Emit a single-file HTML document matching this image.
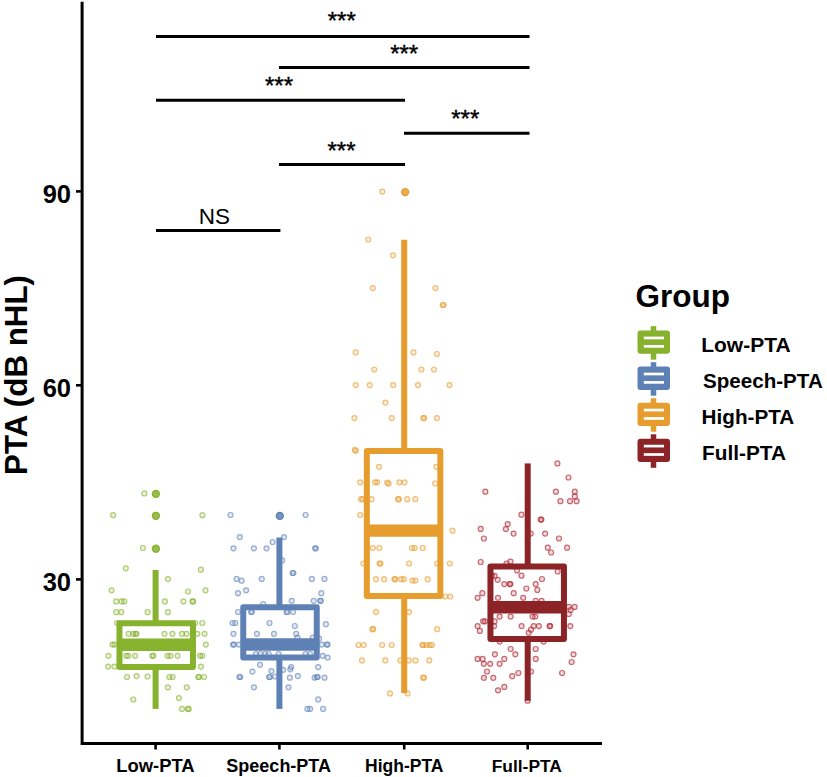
<!DOCTYPE html>
<html><head><meta charset="utf-8"><title>PTA</title>
<style>
html,body{margin:0;padding:0;background:#fff;}
body{width:827px;height:777px;overflow:hidden;position:relative;font-family:"Liberation Sans",sans-serif;}
svg{position:absolute;left:0;top:0;}
text{font-family:"Liberation Sans",sans-serif;fill:#000;}
.b{font-weight:bold;}
</style></head><body>
<svg width="827" height="777" viewBox="0 0 827 777">
<rect width="827" height="777" fill="#fff"/>

<g fill="#86B22E" fill-opacity="0.18" stroke="#86B22E" stroke-opacity="0.62" stroke-width="1.2">
<circle cx="144.3" cy="493.4" r="2.5"/>
<circle cx="113.1" cy="515.2" r="2.5"/>
<circle cx="202.4" cy="515.2" r="2.5"/>
<circle cx="142.9" cy="548" r="2.5"/>
<circle cx="125.8" cy="568.3" r="2.5"/>
<circle cx="200.9" cy="569.7" r="2.5"/>
<circle cx="168" cy="579.1" r="2.5"/>
<circle cx="111.6" cy="590.3" r="2.5"/>
<circle cx="188.1" cy="591.5" r="2.5"/>
<circle cx="205.5" cy="590.3" r="2.5"/>
<circle cx="116.2" cy="601.4" r="2.5"/>
<circle cx="121.6" cy="601.4" r="2.5"/>
<circle cx="124.3" cy="601.4" r="2.5"/>
<circle cx="164.9" cy="601.4" r="2.5"/>
<circle cx="183.4" cy="601.4" r="2.5"/>
<circle cx="192.4" cy="601.4" r="2.5"/>
<circle cx="193.2" cy="601.4" r="2.5"/>
<circle cx="116.2" cy="612.2" r="2.5"/>
<circle cx="121.3" cy="612.2" r="2.5"/>
<circle cx="147.6" cy="612.2" r="2.5"/>
<circle cx="167.9" cy="612.2" r="2.5"/>
<circle cx="117.1" cy="623" r="2.5"/>
<circle cx="195.1" cy="623" r="2.5"/>
<circle cx="202.3" cy="623" r="2.5"/>
<circle cx="128.5" cy="633.8" r="2.5"/>
<circle cx="133.3" cy="633.8" r="2.5"/>
<circle cx="135.6" cy="633.8" r="2.5"/>
<circle cx="136.4" cy="633.8" r="2.5"/>
<circle cx="164.5" cy="633.8" r="2.5"/>
<circle cx="172.4" cy="633.8" r="2.5"/>
<circle cx="182" cy="633.8" r="2.5"/>
<circle cx="186.5" cy="633.8" r="2.5"/>
<circle cx="197.3" cy="633.8" r="2.5"/>
<circle cx="204.5" cy="633.8" r="2.5"/>
<circle cx="112.5" cy="644.6" r="2.5"/>
<circle cx="114.5" cy="644.6" r="2.5"/>
<circle cx="205.8" cy="644.6" r="2.5"/>
<circle cx="108.5" cy="655.8" r="2.5"/>
<circle cx="126.1" cy="655.8" r="2.5"/>
<circle cx="128.3" cy="655.8" r="2.5"/>
<circle cx="135.1" cy="655.8" r="2.5"/>
<circle cx="152.4" cy="655.8" r="2.5"/>
<circle cx="153.2" cy="655.8" r="2.5"/>
<circle cx="167.6" cy="655.8" r="2.5"/>
<circle cx="170.3" cy="655.8" r="2.5"/>
<circle cx="177.5" cy="655.8" r="2.5"/>
<circle cx="200" cy="655.8" r="2.5"/>
<circle cx="202.3" cy="655.8" r="2.5"/>
<circle cx="108.1" cy="666.6" r="2.5"/>
<circle cx="114.4" cy="666.6" r="2.5"/>
<circle cx="200.9" cy="666.6" r="2.5"/>
<circle cx="127" cy="677" r="2.5"/>
<circle cx="136.6" cy="676.1" r="2.5"/>
<circle cx="147.6" cy="676.5" r="2.5"/>
<circle cx="169.4" cy="677" r="2.5"/>
<circle cx="172.6" cy="677" r="2.5"/>
<circle cx="198.3" cy="677" r="2.5"/>
<circle cx="199.1" cy="677" r="2.5"/>
<circle cx="204.1" cy="677" r="2.5"/>
<circle cx="167.9" cy="687.3" r="2.5"/>
<circle cx="186.8" cy="687.3" r="2.5"/>
<circle cx="133.3" cy="699.5" r="2.5"/>
<circle cx="178.9" cy="698.1" r="2.5"/>
<circle cx="182" cy="708.9" r="2.5"/>
<circle cx="187.9" cy="708.9" r="2.5"/>
<circle cx="188.7" cy="708.9" r="2.5"/>
</g>
<g fill="#86B22E" fill-opacity="0.85" stroke="#86B22E" stroke-opacity="1" stroke-width="1.4">
<circle cx="155.9" cy="493.9" r="3.45"/>
<circle cx="155.9" cy="515.8" r="3.45"/>
<circle cx="155.9" cy="548.7" r="3.45"/>
</g>
<g fill="#5E81B5" fill-opacity="0.18" stroke="#5E81B5" stroke-opacity="0.62" stroke-width="1.2">
<circle cx="230.5" cy="515" r="2.5"/>
<circle cx="305.6" cy="515" r="2.5"/>
<circle cx="239.8" cy="537.1" r="2.5"/>
<circle cx="284" cy="537.1" r="2.5"/>
<circle cx="272.6" cy="542" r="2.5"/>
<circle cx="233.5" cy="548.3" r="2.5"/>
<circle cx="253.9" cy="548.3" r="2.5"/>
<circle cx="266.5" cy="548.3" r="2.5"/>
<circle cx="315.1" cy="548.3" r="2.5"/>
<circle cx="315.9" cy="548.3" r="2.5"/>
<circle cx="282.2" cy="560.4" r="2.5"/>
<circle cx="292.6" cy="573" r="2.5"/>
<circle cx="293.4" cy="573" r="2.5"/>
<circle cx="236.6" cy="578.9" r="2.5"/>
<circle cx="241.6" cy="580.7" r="2.5"/>
<circle cx="261.8" cy="578.9" r="2.5"/>
<circle cx="311.9" cy="578.9" r="2.5"/>
<circle cx="324.5" cy="578.9" r="2.5"/>
<circle cx="246.1" cy="590.3" r="2.5"/>
<circle cx="238" cy="593.2" r="2.5"/>
<circle cx="321.3" cy="593.2" r="2.5"/>
<circle cx="291.7" cy="600.8" r="2.5"/>
<circle cx="313.7" cy="600.8" r="2.5"/>
<circle cx="320.1" cy="600.8" r="2.5"/>
<circle cx="320.9" cy="600.8" r="2.5"/>
<circle cx="263.2" cy="604" r="2.5"/>
<circle cx="238" cy="612" r="2.5"/>
<circle cx="251.1" cy="612" r="2.5"/>
<circle cx="251.9" cy="612" r="2.5"/>
<circle cx="286.6" cy="612" r="2.5"/>
<circle cx="287.4" cy="612" r="2.5"/>
<circle cx="293" cy="612" r="2.5"/>
<circle cx="232.6" cy="623" r="2.5"/>
<circle cx="235.3" cy="623" r="2.5"/>
<circle cx="269.5" cy="623" r="2.5"/>
<circle cx="294.8" cy="626" r="2.5"/>
<circle cx="325.9" cy="624.2" r="2.5"/>
<circle cx="233.5" cy="633.8" r="2.5"/>
<circle cx="256.9" cy="633.8" r="2.5"/>
<circle cx="274" cy="633.8" r="2.5"/>
<circle cx="296.2" cy="633.8" r="2.5"/>
<circle cx="297.5" cy="637.7" r="2.5"/>
<circle cx="312.8" cy="637.7" r="2.5"/>
<circle cx="319.1" cy="638.6" r="2.5"/>
<circle cx="233.1" cy="644.6" r="2.5"/>
<circle cx="233.9" cy="644.6" r="2.5"/>
<circle cx="238.9" cy="644.6" r="2.5"/>
<circle cx="321.8" cy="644.6" r="2.5"/>
<circle cx="326.8" cy="644.6" r="2.5"/>
<circle cx="327.6" cy="644.6" r="2.5"/>
<circle cx="256" cy="654" r="2.5"/>
<circle cx="260.5" cy="654" r="2.5"/>
<circle cx="265" cy="654" r="2.5"/>
<circle cx="268.6" cy="654" r="2.5"/>
<circle cx="278.6" cy="654" r="2.5"/>
<circle cx="305.6" cy="654" r="2.5"/>
<circle cx="310.1" cy="654" r="2.5"/>
<circle cx="322.7" cy="655.8" r="2.5"/>
<circle cx="327.7" cy="657.6" r="2.5"/>
<circle cx="260" cy="664.8" r="2.5"/>
<circle cx="252.4" cy="671.6" r="2.5"/>
<circle cx="271.4" cy="671.1" r="2.5"/>
<circle cx="283.1" cy="669.8" r="2.5"/>
<circle cx="291.2" cy="667.1" r="2.5"/>
<circle cx="290.3" cy="669.3" r="2.5"/>
<circle cx="318.2" cy="667.1" r="2.5"/>
<circle cx="239.4" cy="677" r="2.5"/>
<circle cx="240.2" cy="677" r="2.5"/>
<circle cx="269.1" cy="677" r="2.5"/>
<circle cx="269.9" cy="677" r="2.5"/>
<circle cx="275" cy="676.5" r="2.5"/>
<circle cx="289.9" cy="677.7" r="2.5"/>
<circle cx="297.8" cy="676.1" r="2.5"/>
<circle cx="314.6" cy="677.7" r="2.5"/>
<circle cx="316.9" cy="677" r="2.5"/>
<circle cx="317.7" cy="677" r="2.5"/>
<circle cx="324.5" cy="677.7" r="2.5"/>
<circle cx="253.9" cy="687.3" r="2.5"/>
<circle cx="288.5" cy="687.3" r="2.5"/>
<circle cx="318.2" cy="699.4" r="2.5"/>
<circle cx="307.4" cy="708.9" r="2.5"/>
<circle cx="310.1" cy="708.9" r="2.5"/>
<circle cx="323.1" cy="708.9" r="2.5"/>
</g>
<g fill="#5E81B5" fill-opacity="0.85" stroke="#5E81B5" stroke-opacity="1" stroke-width="1.4">
<circle cx="279.8" cy="515.9" r="3.45"/>
</g>
<g fill="#E69D2E" fill-opacity="0.18" stroke="#E69D2E" stroke-opacity="0.62" stroke-width="1.2">
<circle cx="382.3" cy="191.6" r="2.5"/>
<circle cx="368.3" cy="239.5" r="2.5"/>
<circle cx="393.1" cy="255.3" r="2.5"/>
<circle cx="372.8" cy="288.1" r="2.5"/>
<circle cx="435.4" cy="288.1" r="2.5"/>
<circle cx="442.8" cy="305" r="2.5"/>
<circle cx="443.6" cy="305" r="2.5"/>
<circle cx="355.7" cy="352.4" r="2.5"/>
<circle cx="413.5" cy="352.4" r="2.5"/>
<circle cx="436.9" cy="354" r="2.5"/>
<circle cx="374.2" cy="369.5" r="2.5"/>
<circle cx="421.4" cy="369.5" r="2.5"/>
<circle cx="434" cy="369.5" r="2.5"/>
<circle cx="355.7" cy="385.1" r="2.5"/>
<circle cx="369.7" cy="385.1" r="2.5"/>
<circle cx="393.1" cy="385.1" r="2.5"/>
<circle cx="418" cy="385.1" r="2.5"/>
<circle cx="449.5" cy="385.1" r="2.5"/>
<circle cx="385.4" cy="402.6" r="2.5"/>
<circle cx="354.4" cy="418.1" r="2.5"/>
<circle cx="391.7" cy="418.1" r="2.5"/>
<circle cx="423.3" cy="418.1" r="2.5"/>
<circle cx="424.1" cy="418.1" r="2.5"/>
<circle cx="436.9" cy="418.1" r="2.5"/>
<circle cx="354.8" cy="449.8" r="2.5"/>
<circle cx="355.8" cy="450.8" r="2.5"/>
<circle cx="379.1" cy="466.8" r="2.5"/>
<circle cx="436.3" cy="466.8" r="2.5"/>
<circle cx="360.2" cy="482.3" r="2.5"/>
<circle cx="375.1" cy="482.3" r="2.5"/>
<circle cx="377.3" cy="482.3" r="2.5"/>
<circle cx="387.2" cy="482.6" r="2.5"/>
<circle cx="388.6" cy="483.7" r="2.5"/>
<circle cx="399.4" cy="482.3" r="2.5"/>
<circle cx="404.5" cy="482.3" r="2.5"/>
<circle cx="435.1" cy="483.5" r="2.5"/>
<circle cx="361" cy="499.2" r="2.5"/>
<circle cx="362.5" cy="499.2" r="2.5"/>
<circle cx="371.5" cy="499.2" r="2.5"/>
<circle cx="398.1" cy="499.2" r="2.5"/>
<circle cx="398.9" cy="499.2" r="2.5"/>
<circle cx="407.2" cy="499.2" r="2.5"/>
<circle cx="415.3" cy="499.2" r="2.5"/>
<circle cx="360.2" cy="515" r="2.5"/>
<circle cx="452.5" cy="530.7" r="2.5"/>
<circle cx="372.8" cy="548" r="2.5"/>
<circle cx="379.3" cy="548" r="2.5"/>
<circle cx="412" cy="548" r="2.5"/>
<circle cx="414.7" cy="548" r="2.5"/>
<circle cx="422.8" cy="548" r="2.5"/>
<circle cx="363.4" cy="563.5" r="2.5"/>
<circle cx="379.6" cy="563.5" r="2.5"/>
<circle cx="380.4" cy="563.5" r="2.5"/>
<circle cx="409" cy="563.5" r="2.5"/>
<circle cx="437.2" cy="563.5" r="2.5"/>
<circle cx="449.8" cy="563.5" r="2.5"/>
<circle cx="376" cy="579.2" r="2.5"/>
<circle cx="384.1" cy="579.2" r="2.5"/>
<circle cx="394.5" cy="579.2" r="2.5"/>
<circle cx="395.3" cy="579.2" r="2.5"/>
<circle cx="401.2" cy="579.2" r="2.5"/>
<circle cx="403.9" cy="579.2" r="2.5"/>
<circle cx="412.4" cy="580.6" r="2.5"/>
<circle cx="415.3" cy="580.6" r="2.5"/>
<circle cx="427.7" cy="579.2" r="2.5"/>
<circle cx="445.3" cy="596.5" r="2.5"/>
<circle cx="450.2" cy="596.5" r="2.5"/>
<circle cx="376" cy="612.1" r="2.5"/>
<circle cx="409" cy="612.1" r="2.5"/>
<circle cx="372.4" cy="629.2" r="2.5"/>
<circle cx="373.2" cy="629.2" r="2.5"/>
<circle cx="437.2" cy="629.2" r="2.5"/>
<circle cx="358.5" cy="645" r="2.5"/>
<circle cx="363.7" cy="645" r="2.5"/>
<circle cx="382.2" cy="645" r="2.5"/>
<circle cx="391.7" cy="645" r="2.5"/>
<circle cx="422.4" cy="645" r="2.5"/>
<circle cx="423.2" cy="645" r="2.5"/>
<circle cx="426.2" cy="645" r="2.5"/>
<circle cx="429.8" cy="645" r="2.5"/>
<circle cx="432" cy="645" r="2.5"/>
<circle cx="362" cy="660.4" r="2.5"/>
<circle cx="385.3" cy="660.4" r="2.5"/>
<circle cx="400.4" cy="660.4" r="2.5"/>
<circle cx="408.9" cy="660.4" r="2.5"/>
<circle cx="415.5" cy="660.4" r="2.5"/>
<circle cx="429.3" cy="660.4" r="2.5"/>
<circle cx="423.2" cy="677.7" r="2.5"/>
<circle cx="424" cy="677.7" r="2.5"/>
<circle cx="390" cy="693.4" r="2.5"/>
<circle cx="407.6" cy="693.4" r="2.5"/>
</g>
<g fill="#E69D2E" fill-opacity="0.85" stroke="#E69D2E" stroke-opacity="1" stroke-width="1.4">
<circle cx="405.2" cy="192.1" r="3.45"/>
</g>
<g fill="#B02A35" fill-opacity="0.18" stroke="#B02A35" stroke-opacity="0.68" stroke-width="1.2">
<circle cx="557.4" cy="463.4" r="2.5"/>
<circle cx="568.5" cy="477.5" r="2.5"/>
<circle cx="485.3" cy="491.7" r="2.5"/>
<circle cx="555.9" cy="491.7" r="2.5"/>
<circle cx="574.8" cy="491.7" r="2.5"/>
<circle cx="574.8" cy="496.4" r="2.5"/>
<circle cx="560.4" cy="501.2" r="2.5"/>
<circle cx="570" cy="501.2" r="2.5"/>
<circle cx="576.6" cy="501.2" r="2.5"/>
<circle cx="521.4" cy="514.7" r="2.5"/>
<circle cx="540.7" cy="519.6" r="2.5"/>
<circle cx="541.4" cy="519.6" r="2.5"/>
<circle cx="507.7" cy="524.1" r="2.5"/>
<circle cx="505.9" cy="529.1" r="2.5"/>
<circle cx="480.7" cy="528.9" r="2.5"/>
<circle cx="513.6" cy="533.6" r="2.5"/>
<circle cx="530.7" cy="533.6" r="2.5"/>
<circle cx="545.1" cy="533.6" r="2.5"/>
<circle cx="483.9" cy="538.5" r="2.5"/>
<circle cx="559" cy="538.5" r="2.5"/>
<circle cx="547.8" cy="547.7" r="2.5"/>
<circle cx="551.1" cy="552.5" r="2.5"/>
<circle cx="567.1" cy="547.7" r="2.5"/>
<circle cx="480.7" cy="562" r="2.5"/>
<circle cx="510.5" cy="561.6" r="2.5"/>
<circle cx="506.5" cy="563.7" r="2.5"/>
<circle cx="517" cy="570.4" r="2.5"/>
<circle cx="557.7" cy="571.5" r="2.5"/>
<circle cx="521.5" cy="575.7" r="2.5"/>
<circle cx="492" cy="575.4" r="2.5"/>
<circle cx="494.6" cy="575.9" r="2.5"/>
<circle cx="497.7" cy="579.8" r="2.5"/>
<circle cx="542" cy="579" r="2.5"/>
<circle cx="504.3" cy="584.1" r="2.5"/>
<circle cx="509.8" cy="584.1" r="2.5"/>
<circle cx="510.4" cy="584.1" r="2.5"/>
<circle cx="535.7" cy="584.1" r="2.5"/>
<circle cx="526.3" cy="588.5" r="2.5"/>
<circle cx="537.3" cy="589.9" r="2.5"/>
<circle cx="513.7" cy="593.2" r="2.5"/>
<circle cx="482.3" cy="593.2" r="2.5"/>
<circle cx="477.6" cy="597.8" r="2.5"/>
<circle cx="498" cy="597.8" r="2.5"/>
<circle cx="523.2" cy="597.8" r="2.5"/>
<circle cx="535.7" cy="600.9" r="2.5"/>
<circle cx="541.6" cy="600.9" r="2.5"/>
<circle cx="568.8" cy="606.9" r="2.5"/>
<circle cx="574.6" cy="606.9" r="2.5"/>
<circle cx="570.6" cy="610" r="2.5"/>
<circle cx="568.8" cy="614" r="2.5"/>
<circle cx="499.6" cy="616.6" r="2.5"/>
<circle cx="510.6" cy="616.6" r="2.5"/>
<circle cx="532.6" cy="616.6" r="2.5"/>
<circle cx="535.3" cy="616.6" r="2.5"/>
<circle cx="483.1" cy="621.3" r="2.5"/>
<circle cx="485" cy="621.3" r="2.5"/>
<circle cx="494.6" cy="621.3" r="2.5"/>
<circle cx="477.6" cy="626.1" r="2.5"/>
<circle cx="494.1" cy="626.1" r="2.5"/>
<circle cx="521.6" cy="626.1" r="2.5"/>
<circle cx="533.7" cy="626.1" r="2.5"/>
<circle cx="538.9" cy="626.1" r="2.5"/>
<circle cx="549.6" cy="626.1" r="2.5"/>
<circle cx="550.2" cy="626.1" r="2.5"/>
<circle cx="570.3" cy="626.1" r="2.5"/>
<circle cx="479.9" cy="630.9" r="2.5"/>
<circle cx="531" cy="629.7" r="2.5"/>
<circle cx="528.7" cy="632.8" r="2.5"/>
<circle cx="499.6" cy="641.6" r="2.5"/>
<circle cx="543.6" cy="641.6" r="2.5"/>
<circle cx="510.6" cy="649" r="2.5"/>
<circle cx="535.7" cy="649" r="2.5"/>
<circle cx="494.9" cy="654.3" r="2.5"/>
<circle cx="515.3" cy="654.3" r="2.5"/>
<circle cx="573.5" cy="654.3" r="2.5"/>
<circle cx="477.6" cy="658.9" r="2.5"/>
<circle cx="482.6" cy="658.9" r="2.5"/>
<circle cx="504.3" cy="658.9" r="2.5"/>
<circle cx="535.7" cy="658.9" r="2.5"/>
<circle cx="483.9" cy="663.8" r="2.5"/>
<circle cx="490.2" cy="663.8" r="2.5"/>
<circle cx="499.6" cy="663.8" r="2.5"/>
<circle cx="571.6" cy="662" r="2.5"/>
<circle cx="487" cy="671.5" r="2.5"/>
<circle cx="518.4" cy="673" r="2.5"/>
<circle cx="531" cy="671.5" r="2.5"/>
<circle cx="562.1" cy="673" r="2.5"/>
<circle cx="483.9" cy="677.8" r="2.5"/>
<circle cx="493.3" cy="677.8" r="2.5"/>
<circle cx="512.2" cy="676.2" r="2.5"/>
<circle cx="504.3" cy="686.9" r="2.5"/>
<circle cx="498" cy="690.3" r="2.5"/>
<circle cx="527.6" cy="700.7" r="2.5"/>
</g>
<g fill="#8C2327" fill-opacity="0.85" stroke="#8C2327" stroke-opacity="1" stroke-width="1.4">
</g>
<g stroke="#86B22E" fill="none" stroke-width="6" stroke-linejoin="round">
<line x1="155.6" y1="570" x2="155.6" y2="623.2"/><line x1="155.6" y1="667" x2="155.6" y2="708.9"/>
<rect x="119.44999999999999" y="623.2" width="73.5" height="43.799999999999955" fill="#fff" fill-opacity="0"/>
<line x1="119.44999999999999" y1="644.8" x2="192.95" y2="644.8" stroke-width="12.4"/>
</g>
<g stroke="#5E81B5" fill="none" stroke-width="6" stroke-linejoin="round">
<line x1="279.4" y1="537.5" x2="279.4" y2="607.3"/><line x1="279.4" y1="657.4" x2="279.4" y2="708.9"/>
<rect x="243.25" y="607.3" width="73.5" height="50.10000000000002" fill="#fff" fill-opacity="0"/>
<line x1="243.25" y1="644.5" x2="316.75" y2="644.5" stroke-width="12.4"/>
</g>
<g stroke="#E69D2E" fill="none" stroke-width="6" stroke-linejoin="round">
<line x1="404.2" y1="239.8" x2="404.2" y2="451"/><line x1="404.2" y1="596.1" x2="404.2" y2="693.1"/>
<rect x="366.85" y="451" width="73.5" height="145.10000000000002" fill="#fff" fill-opacity="0"/>
<line x1="366.85" y1="530.6" x2="440.35" y2="530.6" stroke-width="12.4"/>
</g>
<g stroke="#8C2327" fill="none" stroke-width="6" stroke-linejoin="round">
<line x1="527.7" y1="463.4" x2="527.7" y2="566.6"/><line x1="527.7" y1="638.9" x2="527.7" y2="700.7"/>
<rect x="490.45000000000005" y="566.6" width="73.5" height="72.29999999999995" fill="#fff" fill-opacity="0"/>
<line x1="490.45000000000005" y1="607.3" x2="563.95" y2="607.3" stroke-width="12.4"/>
</g>
<g stroke="#000" stroke-width="3" fill="none">
<path d="M82.1 1.8 V743.5 H602"/>
<line x1="76" y1="191.4" x2="82" y2="191.4" stroke-width="2.6"/>
<line x1="76" y1="385.3" x2="82" y2="385.3" stroke-width="2.6"/>
<line x1="76" y1="579.4" x2="82" y2="579.4" stroke-width="2.6"/>
<line x1="155.6" y1="744" x2="155.6" y2="749.5" stroke-width="2.6"/>
<line x1="279.4" y1="744" x2="279.4" y2="749.5" stroke-width="2.6"/>
<line x1="404.2" y1="744" x2="404.2" y2="749.5" stroke-width="2.6"/>
<line x1="527.7" y1="744" x2="527.7" y2="749.5" stroke-width="2.6"/>
</g>
<g stroke="#000" stroke-width="3">
<line x1="156" y1="36.4" x2="529.5" y2="36.4"/>
<line x1="279" y1="67.5" x2="529.5" y2="67.5"/>
<line x1="156" y1="100.2" x2="405" y2="100.2"/>
<line x1="404" y1="133.2" x2="529.5" y2="133.2"/>
<line x1="279" y1="164.5" x2="405" y2="164.5"/>
<line x1="156" y1="230.4" x2="280.4" y2="230.4"/>
</g>
<text x="341.8" y="29.4" font-size="24" stroke="#000" stroke-width="0.4" text-anchor="middle">***</text>
<text x="404.2" y="62.3" font-size="24" stroke="#000" stroke-width="0.4" text-anchor="middle">***</text>
<text x="279.0" y="93.5" font-size="24" stroke="#000" stroke-width="0.4" text-anchor="middle">***</text>
<text x="465.3" y="126.5" font-size="24" stroke="#000" stroke-width="0.4" text-anchor="middle">***</text>
<text x="341.5" y="159.4" font-size="24" stroke="#000" stroke-width="0.4" text-anchor="middle">***</text>
<text x="214.4" y="223.5" font-size="22.5" text-anchor="middle">NS</text>
<text class="b" x="71" y="203" font-size="25.5" text-anchor="end">90</text>
<text class="b" x="71" y="397" font-size="25.5" text-anchor="end">60</text>
<text class="b" x="71" y="591" font-size="25.5" text-anchor="end">30</text>
<text class="b" x="155.5" y="771.7" font-size="18.4" text-anchor="middle">Low-PTA</text>
<text class="b" x="278.7" y="771.7" font-size="18" text-anchor="middle">Speech-PTA</text>
<text class="b" x="404.3" y="771.7" font-size="17.5" text-anchor="middle">High-PTA</text>
<text class="b" x="526.8" y="771.7" font-size="17.4" text-anchor="middle">Full-PTA</text>
<text class="b" transform="translate(26.8,375) rotate(-90)" font-size="31.3" text-anchor="middle">PTA (dB nHL)</text>
<text class="b" x="635.6" y="306.6" font-size="31.5">Group</text>
<g stroke="#86B22E" fill="none" stroke-linejoin="round">
<line x1="653.5" y1="326.15" x2="653.5" y2="359.65" stroke-width="5.5"/>
<rect x="640.5" y="333.54999999999995" width="26.5" height="17.3" stroke-width="6" fill="#86B22E"/>
<line x1="643.8" y1="337.95" x2="664" y2="337.95" stroke="#fff" stroke-width="2.7"/>
<line x1="643.8" y1="346.34999999999997" x2="664" y2="346.34999999999997" stroke="#fff" stroke-width="2.7"/>
</g>
<text class="b" x="701.2" y="352.20" font-size="21">Low-PTA</text>
<g stroke="#5E81B5" fill="none" stroke-linejoin="round">
<line x1="653.5" y1="362.2" x2="653.5" y2="395.7" stroke-width="5.5"/>
<rect x="640.5" y="369.59999999999997" width="26.5" height="17.3" stroke-width="6" fill="#5E81B5"/>
<line x1="643.8" y1="374.0" x2="664" y2="374.0" stroke="#fff" stroke-width="2.7"/>
<line x1="643.8" y1="382.4" x2="664" y2="382.4" stroke="#fff" stroke-width="2.7"/>
</g>
<text class="b" x="703.0" y="388.05" font-size="20.6">Speech-PTA</text>
<g stroke="#E69D2E" fill="none" stroke-linejoin="round">
<line x1="653.5" y1="398.25" x2="653.5" y2="431.75" stroke-width="5.5"/>
<rect x="640.5" y="405.65" width="26.5" height="17.3" stroke-width="6" fill="#E69D2E"/>
<line x1="643.8" y1="410.05" x2="664" y2="410.05" stroke="#fff" stroke-width="2.7"/>
<line x1="643.8" y1="418.45" x2="664" y2="418.45" stroke="#fff" stroke-width="2.7"/>
</g>
<text class="b" x="701.6" y="423.90" font-size="20.7">High-PTA</text>
<g stroke="#8C2327" fill="none" stroke-linejoin="round">
<line x1="653.5" y1="434.29999999999995" x2="653.5" y2="467.79999999999995" stroke-width="5.5"/>
<rect x="640.5" y="441.69999999999993" width="26.5" height="17.3" stroke-width="6" fill="#8C2327"/>
<line x1="643.8" y1="446.09999999999997" x2="664" y2="446.09999999999997" stroke="#fff" stroke-width="2.7"/>
<line x1="643.8" y1="454.49999999999994" x2="664" y2="454.49999999999994" stroke="#fff" stroke-width="2.7"/>
</g>
<text class="b" x="702.0" y="459.75" font-size="20.8">Full-PTA</text>
</svg></body></html>
